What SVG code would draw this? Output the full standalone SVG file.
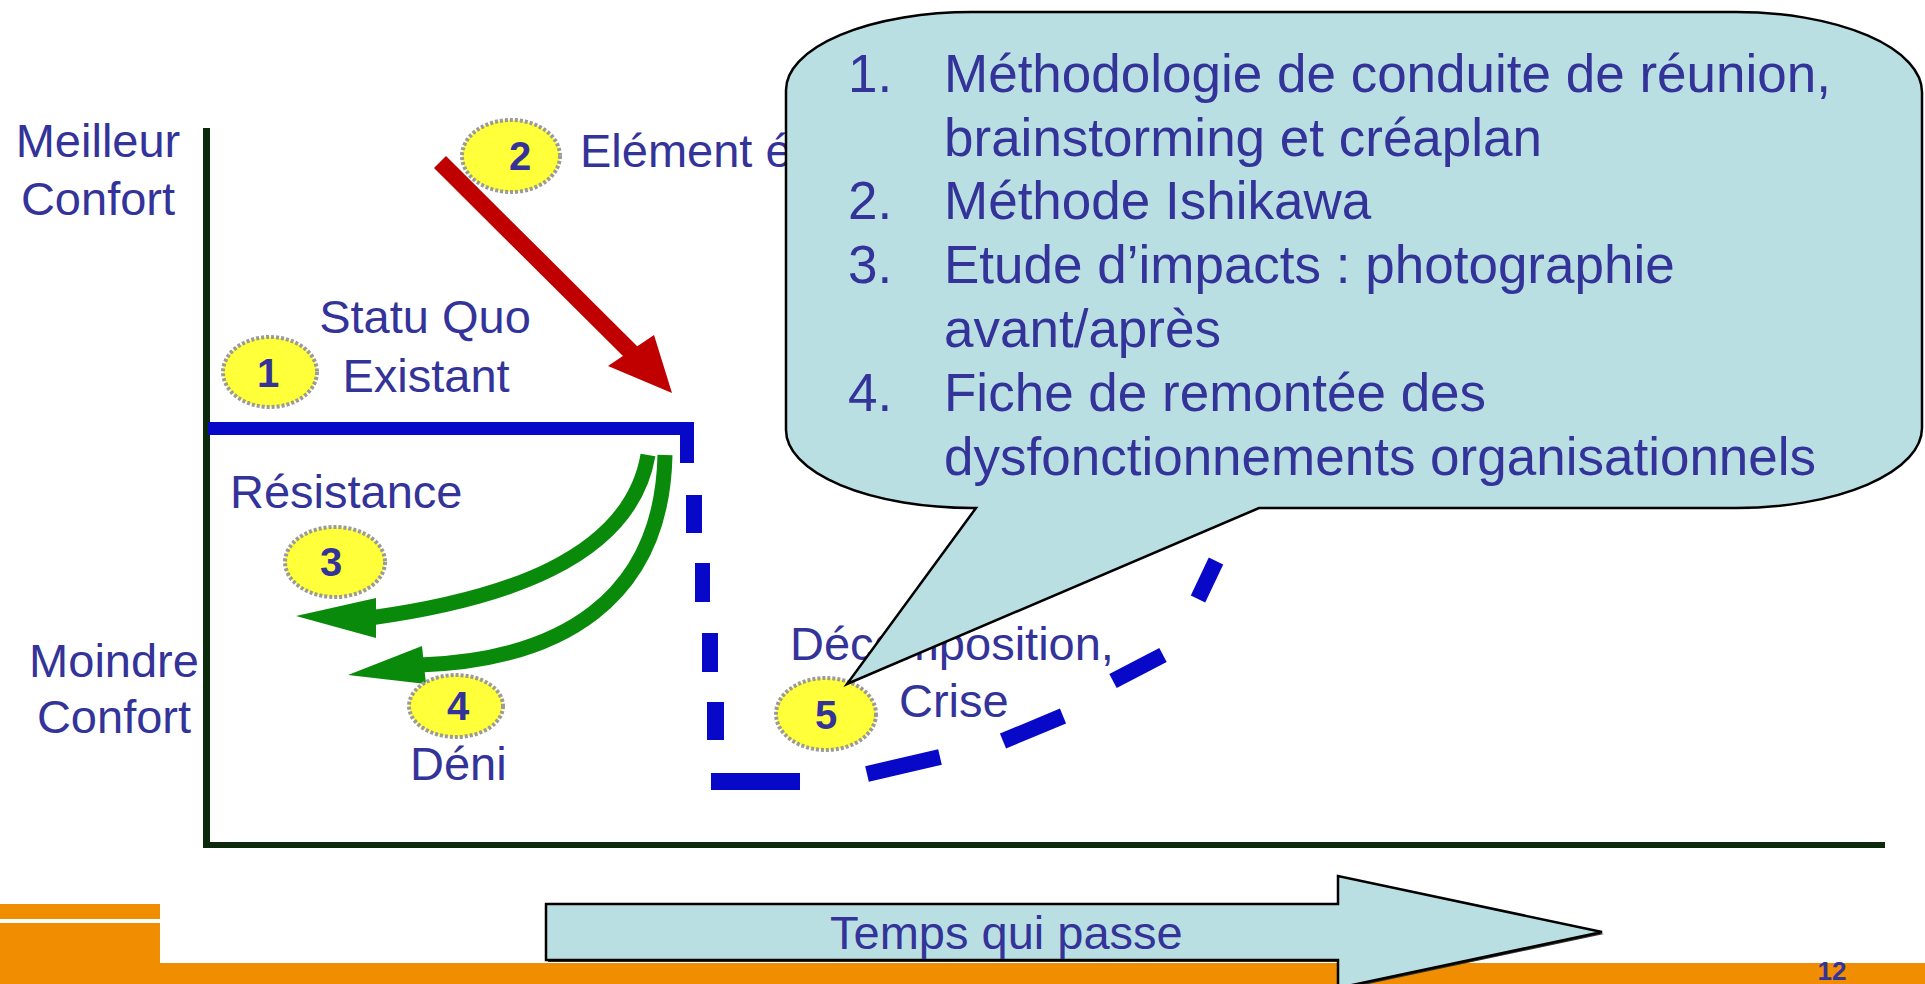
<svg xmlns="http://www.w3.org/2000/svg" width="1925" height="984" viewBox="0 0 1925 984">
<defs>
<style>
.lbl{font-family:"Liberation Sans",Arial,sans-serif;font-size:47px;fill:#333399}
.co{font-family:"Liberation Sans",Arial,sans-serif;font-size:53px;fill:#333399}
.num{font-family:"Liberation Sans",Arial,sans-serif;font-size:40px;font-weight:bold;fill:#333399;text-anchor:middle}
.badge{fill:#FFFF3A;stroke:#9a9a9a;stroke-width:4;stroke-dasharray:3 2}
.blue{fill:#0808C8}
.bdash{stroke:#0808C8;stroke-width:16;fill:none}
.green{stroke:#0A8A0A;stroke-width:15;fill:none}
.gh{fill:#0A8A0A}
.teal{fill:#BADFE2;stroke:#000;stroke-width:2.5}
</style>
</defs>
<rect width="1925" height="984" fill="#fff"/>

<g id="axes">
<rect x="203" y="128" width="7" height="720" fill="#0b2a0b"/>
<rect x="203" y="842" width="1682" height="6" fill="#0b2a0b"/>
</g>

<g id="axis-labels">
<text class="lbl" x="98" y="157" text-anchor="middle">Meilleur</text>
<text class="lbl" x="98" y="215" text-anchor="middle">Confort</text>
<text class="lbl" x="114" y="677" text-anchor="middle">Moindre</text>
<text class="lbl" x="114" y="733" text-anchor="middle">Confort</text>
</g>

<g id="curve">
<rect class="blue" x="208" y="422" width="486" height="13"/>
<rect class="blue" x="680" y="422" width="14" height="41"/>
<rect class="blue" x="686" y="495" width="16" height="38"/>
<rect class="blue" x="695" y="563" width="15" height="39"/>
<rect class="blue" x="702" y="633" width="16" height="39"/>
<rect class="blue" x="707" y="702" width="17" height="38"/>
<rect class="blue" x="711" y="773" width="89" height="17"/>
<line class="bdash" x1="867" y1="774" x2="940" y2="757"/>
<line class="bdash" x1="1003" y1="741" x2="1063" y2="716"/>
<line class="bdash" x1="1113" y1="681" x2="1163" y2="655"/>
<line class="bdash" x1="1198" y1="599" x2="1216" y2="561"/>
</g>

<g id="connectors">
<line x1="440" y1="162" x2="634" y2="355" stroke="#C00000" stroke-width="17"/>
<polygon points="672,393 608,366 654,335" fill="#C00000"/>
<path class="green" d="M648,455 C630,560 500,600 370,618"/>
<polygon class="gh" points="296,616 376,598 376,638"/>
<path class="green" d="M665,455 C662,600 560,660 420,665"/>
<polygon class="gh" points="348,675 422,646 426,684"/>
</g>

<g id="node-1">
<ellipse class="badge" cx="270" cy="372" rx="47" ry="35"/>
<text class="num" x="268" y="387">1</text>
</g>
<g id="label-statu">
<text class="lbl" x="425" y="333" text-anchor="middle">Statu Quo</text>
<text class="lbl" x="426" y="392" text-anchor="middle">Existant</text>
</g>

<g id="node-2">
<ellipse class="badge" cx="511" cy="156" rx="49" ry="36"/>
<text class="num" x="520" y="170">2</text>
<text class="lbl" x="580" y="167">Elément é</text>
</g>

<g id="node-3">
<text class="lbl" x="230" y="508">Résistance</text>
<ellipse class="badge" cx="335" cy="562" rx="50" ry="35"/>
<text class="num" x="331" y="576">3</text>
</g>

<g id="node-4">
<ellipse class="badge" cx="456" cy="706" rx="47" ry="31"/>
<text class="num" x="458" y="720">4</text>
<text class="lbl" x="410" y="780">Déni</text>
</g>

<g id="node-5">
<ellipse class="badge" cx="826" cy="714" rx="50" ry="36"/>
<text class="num" x="826" y="729">5</text>
<text class="lbl" x="790" y="660">Décomposition,</text>
<text class="lbl" x="899" y="717">Crise</text>
</g>

<g id="callout">
<path class="teal" d="M972,12 H1736 A186 80 0 0 1 1922,92 V428 A186 80 0 0 1 1736,508 H1259 L847,684 L976,508 H972 A186 78 0 0 1 786,430 V90 A186 78 0 0 1 972,12 Z"/>
<text class="co" x="848" y="92">1.</text>
<text class="co" x="944" y="92">Méthodologie de conduite de réunion,</text>
<text class="co" x="944" y="156">brainstorming et créaplan</text>
<text class="co" x="848" y="219">2.</text>
<text class="co" x="944" y="219">Méthode Ishikawa</text>
<text class="co" x="848" y="283">3.</text>
<text class="co" x="944" y="283">Etude d’impacts : photographie</text>
<text class="co" x="944" y="347">avant/après</text>
<text class="co" x="848" y="411">4.</text>
<text class="co" x="944" y="411">Fiche de remontée des</text>
<text class="co" x="944" y="475">dysfonctionnements organisationnels</text>
</g>

<g id="footer">
<rect x="0" y="904" width="160" height="15" fill="#F18D00"/>
<path d="M0,923 H160 V963 H1925 V984 H0 Z" fill="#F18D00"/>
<text x="1832" y="980" text-anchor="middle" font-family="Liberation Sans, Arial, sans-serif" font-size="26" font-weight="bold" fill="#333399">12</text>
</g>

<g id="time-arrow">
<polygon points="548,906 1340,906 1340,878 1604,934 1340,990 1340,962 548,962" fill="#333"/>
<polygon class="teal" points="546,904 1338,904 1338,876 1602,932 1338,988 1338,960 546,960"/>
<text class="lbl" x="830" y="949">Temps qui passe</text>
</g>
</svg>
